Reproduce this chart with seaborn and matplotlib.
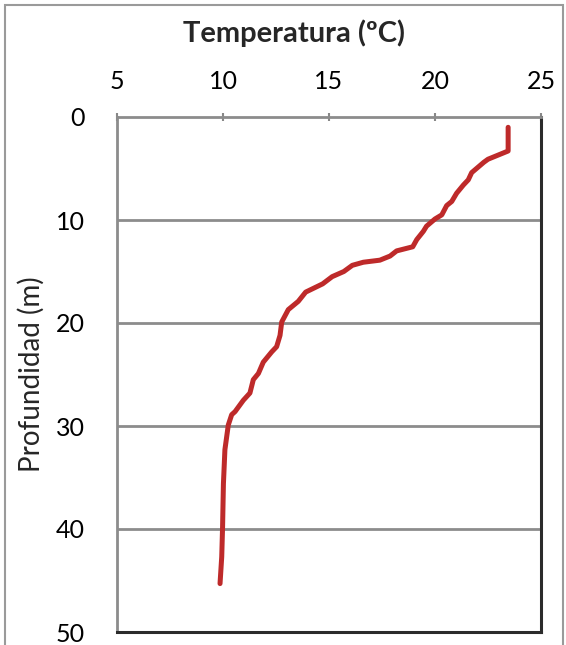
import matplotlib.pyplot as plt
import matplotlib.patches as patches
import seaborn as sns

# Perfil de temperatura
profundidad = [1.0, 3.3, 4.1, 4.4, 5.4, 6.1, 6.6, 7.4, 8.2, 8.6, 9.5, 9.9, 10.6, 11.1,
               11.9, 12.6, 13.0, 13.5, 13.9, 14.1, 14.4, 15.0, 15.5, 16.2, 17.0, 17.9,
               18.7, 19.9, 21.2, 22.3, 22.8, 23.8, 24.9, 25.5, 26.8, 27.5, 28.6, 28.9,
               29.9, 32.3, 35.6, 39.8, 42.7, 45.3]
temperatura = [23.45, 23.45, 22.5, 22.3, 21.73, 21.57, 21.34, 21.02, 20.79, 20.55, 20.32,
               20.0, 19.6, 19.45, 19.14, 18.95, 18.19, 17.88, 17.4, 16.62, 16.1, 15.7,
               15.15, 14.7, 13.9, 13.55, 13.08, 12.77, 12.69, 12.53, 12.3, 11.9, 11.67,
               11.43, 11.27, 10.96, 10.57, 10.41, 10.25, 10.09, 10.02, 9.98, 9.94, 9.86]

xticks = [5, 10, 15, 20, 25]
yticks = [0, 10, 20, 30, 40, 50]


def main():
    sns.set_style("white")
    plt.rcParams['font.family'] = ['Lato', 'DejaVu Sans']

    fig = plt.figure(figsize=(5.66, 6.45), dpi=100)
    ax = fig.add_axes([117 / 566, 1 - 632 / 645, 424 / 566, 515 / 645])

    sns.lineplot(x=temperatura, y=profundidad, sort=False, estimator=None,
                 color="#BE2A2A", linewidth=3.6, ax=ax, zorder=3)

    ax.set_xlim(5, 25)
    ax.set_ylim(50, 0)
    ax.set_xticks(xticks)
    ax.set_yticks(yticks)
    ax.xaxis.tick_top()
    ax.xaxis.set_label_position("top")
    ax.tick_params(axis="both", labelsize=18, colors="#888888", labelcolor="black",
                   length=6, width=1.5, direction="inout")
    ax.tick_params(axis="x", pad=14)
    ax.tick_params(axis="y", pad=20)

    for v in [10, 20, 30, 40]:
        ax.axhline(v, color="#8C8C8C", linewidth=2, zorder=1)

    ax.spines["top"].set_color("#8C8C8C")
    ax.spines["left"].set_color("#8C8C8C")
    ax.spines["top"].set_linewidth(2)
    ax.spines["left"].set_linewidth(2)
    ax.spines["right"].set_color("#2B2B2B")
    ax.spines["bottom"].set_color("#2B2B2B")
    ax.spines["right"].set_linewidth(2.2)
    ax.spines["bottom"].set_linewidth(2.2)

    ax.set_xlabel("Temperatura (ºC)", fontsize=21, fontweight="bold")
    # el titulo del eje esta un poco a la izquierda del centro
    ax.xaxis.set_label_coords((294 - 117) / 424, (632 - 33) / 515)
    ax.xaxis.label.set_va("center")
    ax.set_ylabel("Profundidad (m)", fontsize=20, labelpad=8)

    # borde del area del grafico
    fig.patches.append(patches.Rectangle((5 / 566, -0.1), 558 / 566, 1.1 - 5 / 645,
                                         transform=fig.transFigure, fill=False,
                                         edgecolor="#9A9A9A", linewidth=1.5))

    fig.savefig("out.png", dpi=100)


if __name__ == "__main__":
    main()
